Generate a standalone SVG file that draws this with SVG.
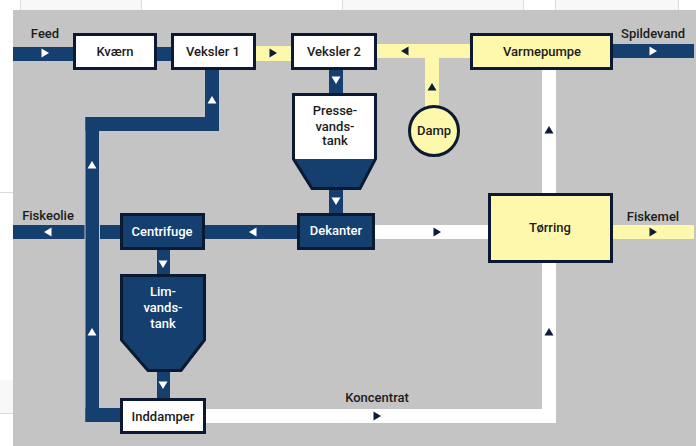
<svg xmlns="http://www.w3.org/2000/svg" width="696" height="446" viewBox="0 0 696 446">
<defs>
<style>
text{font-family:Roboto,"Liberation Sans",sans-serif;font-size:13px;font-weight:500;text-anchor:middle;fill:#1b1b1b}
.w{fill:#ffffff}
.navy{fill:#143f6e}
.yel{fill:#fef8ac}
.wp{fill:#ffffff}
.box{stroke:#0c1932;stroke-width:3}
.ad{fill:#0f1b3a}
.aw{fill:#ffffff}
.faint{stroke:#dcdcdc;stroke-width:1;fill:none}
</style>
<path id="ar" d="M-3.5,-4.5 L4,0 L-3.5,4.5 Z"/>
</defs>
<rect x="0" y="0" width="696" height="446" fill="#ffffff"/>
<rect x="20" y="0" width="122" height="10" fill="#f8f8f8"/>
<rect x="343" y="0" width="180" height="10" fill="#f8f8f8"/>
<rect x="555" y="0" width="123" height="10" fill="#f8f8f8"/>
<path class="faint" d="M20.5,0V10M141.5,0V10M342.5,0V10M523.5,0V10M555.5,0V10M678.5,0V10M0,192.5H13M0,413.5H13"/>
<rect x="0" y="380" width="13" height="33" fill="#f8f8f8"/>
<rect x="13" y="10" width="683" height="436" fill="#c3c4c3"/>
<g id="connectors">
<rect class="navy" x="13" y="47" width="62" height="14"/>
<rect class="navy" x="155" y="47" width="18" height="14"/>
<rect class="navy" x="329" y="69" width="14" height="25"/>
<rect class="navy" x="329" y="188" width="14" height="26"/>
<rect class="navy" x="204" y="225" width="95" height="14"/>
<rect class="navy" x="100" y="225" width="22" height="14"/>
<rect class="navy" x="13" y="225" width="71.5" height="14"/>
<rect class="navy" x="157" y="249" width="13" height="26"/>
<rect class="navy" x="157" y="369" width="13" height="31"/>
<rect class="navy" x="205" y="69" width="14" height="62"/>
<rect class="navy" x="85.5" y="117" width="133.5" height="14"/>
<rect class="navy" x="85.5" y="117" width="13.5" height="305"/>
<rect class="navy" x="85.5" y="408" width="36" height="14"/>
<rect class="navy" x="611" y="44" width="83" height="14"/>
<rect class="yel" x="254" y="46" width="39" height="15"/>
<rect class="yel" x="375" y="44" width="97" height="14"/>
<rect class="yel" x="425" y="44" width="14" height="64"/>
<rect class="yel" x="611" y="225" width="83" height="14"/>
<rect class="wp" x="373" y="225" width="117" height="14"/>
<rect class="wp" x="204" y="409" width="352" height="14"/>
<rect class="wp" x="542" y="69" width="14" height="354"/>
<use href="#ar" class="aw" transform="translate(45,53)"/>
<use href="#ar" class="ad" transform="translate(273,53)"/>
<use href="#ar" class="ad" transform="translate(405,51) rotate(180)"/>
<use href="#ar" class="ad" transform="translate(432,87) rotate(-90)"/>
<use href="#ar" class="aw" transform="translate(653,51)"/>
<use href="#ar" class="aw" transform="translate(336,80) rotate(90)"/>
<use href="#ar" class="aw" transform="translate(336,201) rotate(90)"/>
<use href="#ar" class="aw" transform="translate(253,232) rotate(180)"/>
<use href="#ar" class="ad" transform="translate(437,232)"/>
<use href="#ar" class="ad" transform="translate(653,232)"/>
<use href="#ar" class="aw" transform="translate(48,232) rotate(180)"/>
<use href="#ar" class="aw" transform="translate(212,100) rotate(-90)"/>
<use href="#ar" class="aw" transform="translate(92,165) rotate(-90)"/>
<use href="#ar" class="aw" transform="translate(92,332) rotate(-90)"/>
<use href="#ar" class="aw" transform="translate(163,264) rotate(90)"/>
<use href="#ar" class="aw" transform="translate(163,385) rotate(90)"/>
<use href="#ar" class="ad" transform="translate(549,130) rotate(-90)"/>
<use href="#ar" class="ad" transform="translate(549,332) rotate(-90)"/>
<use href="#ar" class="ad" transform="translate(377,416)"/>
<text x="45" y="38">Feed</text>
<text x="653" y="38">Spildevand</text>
<text x="48" y="220">Fiskeolie</text>
<text x="653" y="221">Fiskemel</text>
<text x="377" y="402">Koncentrat</text>
</g>
<g id="kvaern">
<rect class="box w" x="74.5" y="34.5" width="81" height="34"/>
<text x="115" y="56">Kværn</text>
</g>
<g id="veksler1">
<rect class="box w" x="172.5" y="34.5" width="82" height="34"/>
<text x="213" y="56">Veksler 1</text>
</g>
<g id="veksler2">
<rect class="box w" x="292.5" y="34.5" width="83" height="34"/>
<text x="334" y="56">Veksler 2</text>
</g>
<g id="varmepumpe">
<rect class="box yel" x="471.5" y="34.5" width="140" height="34"/>
<text x="542" y="56">Varmepumpe</text>
</g>
<g id="damp">
<circle class="box yel" cx="434" cy="131" r="24.5"/>
<text x="434" y="135">Damp</text>
</g>
<g id="pressevandstank">
<path class="navy" d="M293.5,159 H375.5 L360,188.5 H312 Z"/>
<rect class="w" x="293.5" y="94.5" width="82" height="64.5"/>
<path d="M293.5,94.5 H375.5 V159 L360,188.5 H312 L293.5,159 Z" fill="none" stroke="#0c1932" stroke-width="3" stroke-linejoin="miter"/>
<text x="335" y="115">Presse-</text>
<text x="335" y="130.5">vands-</text>
<text x="335" y="145">tank</text>
</g>
<g id="dekanter">
<rect class="box navy" x="298.5" y="214.5" width="75" height="34"/>
<text x="336" y="235" style="fill:#ffffff">Dekanter</text>
</g>
<g id="centrifuge">
<rect class="box navy" x="121.5" y="214.5" width="82" height="34"/>
<text x="162" y="236" style="fill:#ffffff">Centrifuge</text>
</g>
<g id="torring">
<rect class="box yel" x="489.5" y="194.5" width="122" height="67"/>
<text x="550" y="232">Tørring</text>
</g>
<g id="limvandstank">
<path class="box navy" d="M121.5,275.5 H204.5 V340 L181,370.5 H148 L121.5,340 Z"/>
<text x="163" y="296" style="fill:#ffffff">Lim-</text>
<text x="163" y="312" style="fill:#ffffff">vands-</text>
<text x="163" y="328" style="fill:#ffffff">tank</text>
</g>
<g id="inddamper">
<rect class="box w" x="121.5" y="399.5" width="83" height="33"/>
<text x="163" y="421">Inddamper</text>
</g>
</svg>
